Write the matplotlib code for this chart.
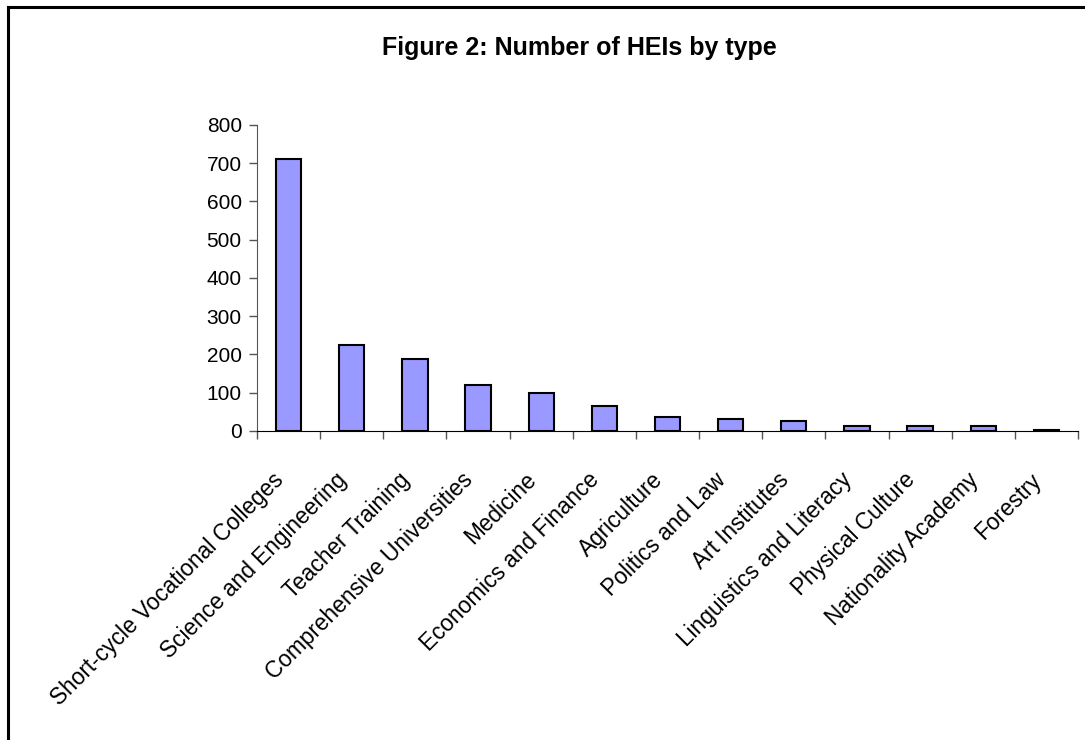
import numpy as np
import matplotlib.pyplot as plt
from matplotlib.lines import Line2D

plt.rcParams['font.family'] = ['Liberation Sans', 'DejaVu Sans']

# HEI types and counts
categories = ['Short-cycle Vocational Colleges', 'Science and Engineering', 'Teacher Training',
              'Comprehensive Universities', 'Medicine', 'Economics and Finance', 'Agriculture',
              'Politics and Law', 'Art Institutes', 'Linguistics and Literacy', 'Physical Culture',
              'Nationality Academy', 'Forestry']
counts = [710, 224, 187, 121, 98, 66, 37, 31, 27, 12, 12, 12, 3]
yticks = [0, 100, 200, 300, 400, 500, 600, 700, 800]

fig = plt.figure(figsize=(10.85, 7.4), dpi=100)
ax = fig.add_axes([0.2369, 0.4176, 0.7566, 0.4135])

x = np.arange(len(categories))
ax.bar(x, counts, width=0.4, color='#9999FF', edgecolor='black', linewidth=1.5)

ax.set_xlim(-0.5, len(categories) - 0.5)
ax.set_ylim(0, 800)
ax.set_yticks(yticks)
ax.tick_params(axis='y', labelsize=15, length=6, width=1, color='#555555', pad=5)

# category ticks sit between bars
ax.set_xticks(np.arange(len(categories) + 1) - 0.5)
ax.set_xticklabels([])
ax.tick_params(axis='x', length=6, width=1, color='#555555')
for i, name in enumerate(categories):
    ax.annotate(name, xy=(i, 0), xycoords=('data', 'axes fraction'),
                xytext=(-12, -27), textcoords='offset points',
                rotation=45, ha='right', va='top', rotation_mode='anchor',
                fontsize=16.3)

ax.spines['top'].set_visible(False)
ax.spines['right'].set_visible(False)
ax.spines['left'].set_color('#555555')
ax.spines['bottom'].set_color('black')

fig.text(0.534, 0.935, 'Figure 2: Number of HEIs by type', ha='center', va='center',
         fontsize=18, fontweight='bold')

# chart frame (extends past right and bottom edges)
fig.add_artist(Line2D([8 / 1085, 8 / 1085], [0, 1 - 7 / 740], color='black', linewidth=2.2))
fig.add_artist(Line2D([8 / 1085, 1], [1 - 7 / 740, 1 - 7 / 740], color='black', linewidth=2.2))

fig.savefig('out.png', dpi=100)
